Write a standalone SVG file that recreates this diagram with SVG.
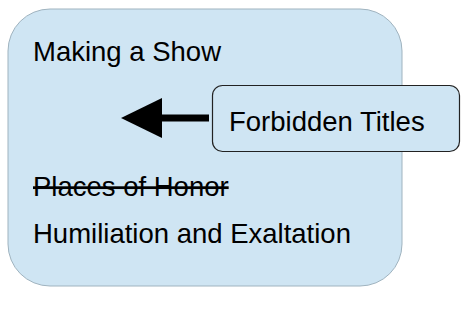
<svg xmlns="http://www.w3.org/2000/svg" width="472" height="312" viewBox="0 0 472 312">
<style>
text{font-family:"Liberation Sans",Arial,sans-serif;font-size:27.5px;fill:#000}
.box{fill:#cfe5f3}
</style>
<rect width="472" height="312" fill="#fff"/>
<g id="main">
<rect class="box" x="8" y="9" width="394" height="277" rx="42" stroke="#9fb3bf" stroke-width="1"/>
<text x="33" y="61">Making a Show</text>
<text x="33" y="196" text-decoration="line-through">Places of Honor</text>
<text x="33" y="243">Humiliation and Exaltation</text>
</g>
<g id="connectors">
<rect x="160" y="114.5" width="49" height="7" fill="#000"/>
<polygon points="121,118 162,98 162,138" fill="#000"/>
</g>
<g id="forbidden">
<rect class="box" x="212.5" y="85.5" width="247" height="66" rx="10" stroke="#222" stroke-width="1.2"/>
<text x="229" y="131">Forbidden Titles</text>
</g>
</svg>
